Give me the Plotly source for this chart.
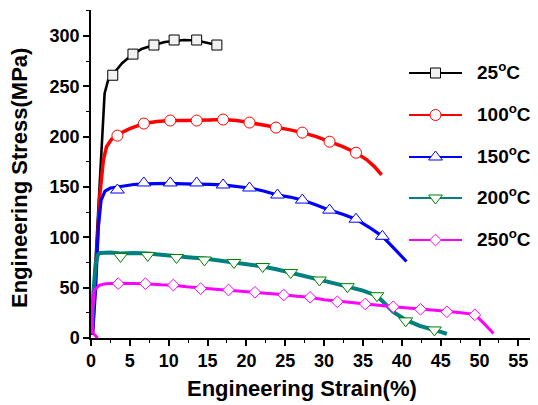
import plotly.graph_objects as go

# ---------------- data ----------------
labels = ["25<sup>o</sup>C", "100<sup>o</sup>C", "150<sup>o</sup>C", "200<sup>o</sup>C", "250<sup>o</sup>C"]

x25 = [0.1, 0.6, 1.1, 1.5, 1.75, 2.2, 2.8, 4.0, 5.4, 6.5, 8.1, 9.5, 10.7, 12.0, 13.6, 15.0, 16.2]
y25 = [8, 80, 155, 215, 243, 256, 262, 273, 282, 287, 291, 294, 295, 296, 295.5, 293, 291]
mx25 = [2.8, 5.4, 8.1, 10.7, 13.6, 16.2]
my25 = [261, 282, 291, 296, 296, 291]

x100 = [0.2, 0.6, 1.16, 1.6, 2.0, 2.6, 3.4, 5.0, 6.8, 8.5, 10.2, 12.0, 13.6, 15.3, 17.0, 18.7, 20.4,
        22.0, 23.8, 25.5, 27.2, 29.0, 30.7, 32.4, 34.1, 35.5, 36.5, 37.4]
y100 = [5, 60, 144, 177, 190, 197, 202, 208, 213, 215, 216, 216, 216, 216.5, 217, 216, 214,
        212, 209, 207, 204, 200, 195, 190, 184, 177, 170, 162]
mx100 = [3.4, 6.8, 10.2, 13.6, 17.0, 20.4, 23.8, 27.2, 30.7, 34.1]
my100 = [201, 213, 216, 216, 217, 214, 209, 204, 195, 184]

x150 = [0.2, 0.6, 0.94, 1.3, 1.8, 2.5, 3.4, 4.5, 5.5, 6.8, 8.5, 10.2, 12.0, 13.6, 15.3, 17.0, 18.7, 20.4,
        22.2, 24.0, 25.6, 27.2, 29.0, 30.7, 32.4, 34.1, 35.8, 37.5, 39.0, 40.6]
y150 = [3, 50, 110, 137, 146, 149, 150, 151.5, 152.5, 153, 153.5, 153.5, 153, 153, 152.5, 152, 150.5, 149,
        146, 142, 140, 137, 132, 127, 123, 118, 110, 101, 89, 76]
mx150 = [3.4, 6.8, 10.2, 13.6, 17.0, 20.4, 24.0, 27.2, 30.7, 34.1, 37.5]
my150 = [147, 154, 154, 154, 152, 149, 142, 137, 127, 118, 101]

x200 = [0.1, 0.3, 0.6, 0.9, 1.2, 2.5, 3.8, 5.5, 7.3, 9.0, 11.0, 12.8, 14.6, 16.5, 18.4, 20.2, 22.1, 24.0,
        25.7, 27.5, 29.4, 31.2, 33.0, 35.0, 36.8, 37.8, 38.9, 40.5, 42.3, 44.2, 45.8]
y200 = [5, 44, 74, 83, 84.5, 85, 84, 84.5, 84, 82.5, 81, 80, 79, 77, 75, 73, 71, 68,
        65, 61.5, 58, 54.5, 51, 47, 42, 35, 26, 18, 12, 8, 4]
mx200 = [3.8, 7.3, 11.0, 14.6, 18.4, 22.1, 25.7, 29.4, 33.0, 36.8, 40.5, 44.2]
my200 = [81, 82, 80, 77.5, 75, 71, 65, 57.6, 51, 42, 17, 8]

x250 = [0.86, 0.13, 0.2, 0.42, 1.07, 1.9, 3.5, 5.0, 7.0, 9.0, 10.6, 12.3, 14.1, 16.0, 17.7, 19.4, 21.1, 23.0,
        24.8, 26.5, 28.2, 30.0, 31.7, 33.5, 35.3, 37.0, 38.9, 40.6, 42.4, 44.0, 45.8, 47.6, 49.4, 50.5, 51.8]
y250 = [0, 6, 28, 47.4, 52.4, 54, 54.5, 54.5, 54, 53, 52.5, 51, 49.5, 48.5, 47.5, 46.5, 45.5, 44,
        43, 41.5, 40.5, 38, 36.5, 35, 34, 32.5, 31, 30, 29, 27.5, 26.5, 25, 23.5, 15, 4.5]
mx250 = [3.5, 7.0, 10.6, 14.1, 17.7, 21.1, 24.8, 28.2, 31.7, 35.3, 38.9, 42.4, 45.8, 49.4]
my250 = [54, 54, 52.6, 49, 47.7, 45.4, 42.7, 40.4, 36, 33.8, 31, 28.5, 26, 23]

x_ticks = list(range(0, 56, 5))
y_ticks = list(range(0, 301, 50))

# ---------------- styles ----------------
# (x, y, marker x, marker y, line colour, marker edge, symbol, marker size, marker fill, line width)
series = [
    (x25, y25, mx25, my25, "#000000", "#000000", "square", 10, "#f2f2f2", 2.6),
    (x100, y100, mx100, my100, "#ff0000", "#ff0000", "circle", 11, "#ffffff", 3.5),
    (x150, y150, mx150, my150, "#0000ff", "#0000ff", "triangle-up", 12, "#ffffff", 3.2),
    (x200, y200, mx200, my200, "#008080", "#008000", "triangle-down", 12, "#ffffff", 4),
    (x250, y250, mx250, my250, "#ff00ff", "#ff00ff", "diamond", 9, "#ffffff", 3),
]

FONT = "Liberation Sans, Arial, sans-serif"

fig = go.Figure()
for i, (xs, ys, mxs, mys, lc, mc, sym, sz, fill, lw) in enumerate(series):
    fig.add_trace(go.Scatter(x=xs, y=ys, mode="lines", line=dict(color=lc, width=lw),
                             showlegend=False, hoverinfo="skip"))
    fig.add_trace(go.Scatter(x=mxs, y=mys, mode="markers",
                             marker=dict(symbol=sym, size=sz, color=fill, line=dict(color=mc, width=1)),
                             showlegend=False))

# ---- hand-made legend on an overlay axis measured in window pixels ----
leg_x0, leg_x1, leg_text_x = 409, 462, 475
leg_rows = [73, 115, 157, 198, 240]
annotations = []
for i, (xs, ys, mxs, mys, lc, mc, sym, sz, fill, lw) in enumerate(series):
    yy = leg_rows[i]
    fig.add_trace(go.Scatter(x=[leg_x0, leg_x1], y=[yy, yy], xaxis="x2", yaxis="y2", mode="lines",
                             line=dict(color=lc, width=2), showlegend=False, hoverinfo="skip"))
    fig.add_trace(go.Scatter(x=[(leg_x0 + leg_x1) / 2], y=[yy], xaxis="x2", yaxis="y2", mode="markers",
                             marker=dict(symbol=sym, size=sz, color=fill, line=dict(color=mc, width=1)),
                             showlegend=False, hoverinfo="skip"))
    annotations.append(dict(text=labels[i], xref="x2", yref="y2", x=leg_text_x, y=yy - 2,
                            xanchor="left", yanchor="middle", showarrow=False,
                            font=dict(family=FONT, size=19, color="black", weight="bold")))

axis_common = dict(
    showline=True, linecolor="black", linewidth=1.5, mirror=False,
    ticks="outside", ticklen=6, tickwidth=1.5, tickcolor="black",
    showgrid=False, zeroline=False,
    tickfont=dict(family=FONT, size=18, color="black", weight="bold"),
)

annotations += [
    dict(text="Engineering Strain(%)", xref="paper", yref="paper", x=0.473, y=-0.155,
         xanchor="center", yanchor="middle", showarrow=False,
         font=dict(family=FONT, size=22, color="black", weight="bold")),
    dict(text="Engineering Stress(MPa)", xref="paper", yref="paper", x=-0.159, y=0.488,
         xanchor="center", yanchor="middle", showarrow=False, textangle=-90,
         font=dict(family=FONT, size=22, color="black", weight="bold")),
]

# the page body adds an 8px offset; the figure is sized so the plot area lands at x 91..537, y 10..338
fig.update_layout(
    width=530, height=397,
    margin=dict(l=83, r=1, t=2, b=67),
    paper_bgcolor="white", plot_bgcolor="white",
    showlegend=False,
    xaxis=dict(range=[0, 57.4], tickvals=x_ticks,
               minor=dict(dtick=2.5, tick0=0, ticks="outside", ticklen=3, tickwidth=1.2, tickcolor="black"),
               **axis_common),
    yaxis=dict(range=[0, 325.8], tickvals=y_ticks,
               minor=dict(dtick=25, tick0=0, ticks="outside", ticklen=3, tickwidth=1.2, tickcolor="black"),
               **axis_common),
    xaxis2=dict(overlaying="x", anchor="y2", range=[91, 537], visible=False, fixedrange=True),
    yaxis2=dict(overlaying="y", anchor="x2", range=[338, 10], visible=False, fixedrange=True),
    annotations=annotations,
)

fig.write_html("out.html")
